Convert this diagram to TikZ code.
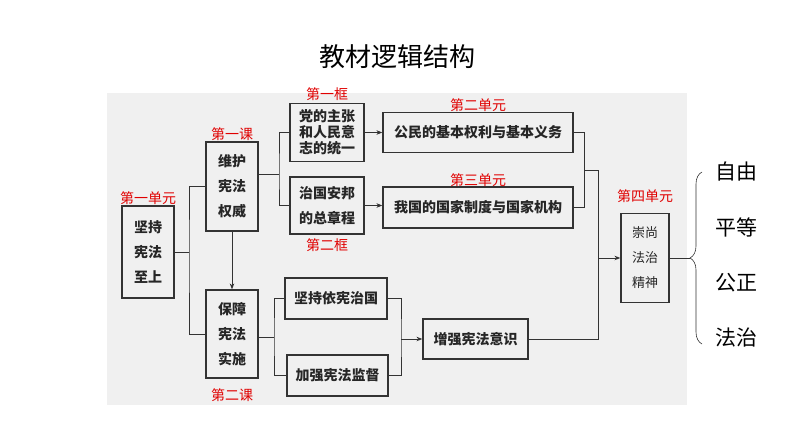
\documentclass[tikz,border=0pt]{standalone}
\usepackage{fontspec}
\setmainfont{Noto Sans CJK SC}
\usepackage{tikz}
\usetikzlibrary{arrows.meta}
\usetikzlibrary{decorations.pathreplacing}
\usetikzlibrary{positioning}
\definecolor{panel}{HTML}{F0F0F0}
\definecolor{boxline}{HTML}{333333}
\definecolor{tagred}{HTML}{E00000}

\begin{document}
\begin{tikzpicture}[
		x=1pt, y=-1pt,
		every node/.style={font=\fontsize{14}{25}\selectfont},
		topic/.style={rectangle, draw=boxline, line width=1.2pt, fill=panel, inner sep=0pt, align=center, text=black!85, font=\bfseries\fontsize{14}{25}\selectfont},
		tag/.style={inner sep=0pt, text=tagred, font=\fontsize{14}{16}\selectfont},
		link/.style={draw=boxline, line width=1pt},
		arrow/.style={link, -{Stealth[length=6pt, width=4.5pt]}}
	]
	\useasboundingbox (0,0) rectangle (794,447);
	\fill[panel] (107,93) rectangle (687,405);

	% Title
	\node[font=\fontsize{26}{30}\selectfont] (title) at (397,57) {教材逻辑结构};

	% Unit 1 and its two lessons
	\node[topic, minimum width=52pt, minimum height=92pt] (root) at (148,252) {坚持\\宪法\\至上};
	\node[tag, above=1pt of root] {第一单元};
	\node[topic, minimum width=52pt, minimum height=89pt] (weihu) at (232,186.5) {维护\\宪法\\权威};
	\node[tag, above=1pt of weihu] {第一课};
	\node[topic, minimum width=52pt, minimum height=88pt] (baozhang) at (232,334) {保障\\宪法\\实施};
	\node[tag, below=10pt of baozhang] {第二课};
	\coordinate (j1) at (189,252);
	\draw[link] (root.east) -- (j1);
	\draw[link] (weihu.west) -| (j1) |- (baozhang.west);
	\draw[arrow] (weihu.south) -- (baozhang.north);

	% Lesson 1: two frames
	\node[topic, minimum width=74pt, minimum height=58pt, font=\bfseries\fontsize{14}{16}\selectfont] (kuang1) at (327,132.5) {党的主张\\和人民意\\志的统一};
	\node[tag, above=2pt of kuang1] {第一框};
	\node[topic, minimum width=74pt, minimum height=57pt] (kuang2) at (327,205.5) {治国安邦\\的总章程};
	\node[tag, below=4pt of kuang2] {第二框};
	\coordinate (j2) at (279,174);
	\draw[link] (weihu.east |- j2) -- (j2);
	\draw[link] (kuang1.west) -| (j2) |- (kuang2.west);

	% Units 2 and 3
	\node[topic, minimum width=190pt, minimum height=40pt] (unit2) at (478,132.5) {公民的基本权利与基本义务};
	\node[tag, above=0pt of unit2] {第二单元};
	\node[topic, minimum width=190pt, minimum height=41pt] (unit3) at (478,207.5) {我国的国家制度与国家机构};
	\node[tag, above=0pt of unit3] {第三单元};
	\draw[arrow] (kuang1.east) -- (kuang1.east -| unit2.west);
	\draw[arrow] (kuang2.east) -- (kuang2.east -| unit3.west);

	% Lesson 2
	\node[topic, minimum width=102pt, minimum height=41pt] (yixian) at (336,298.5) {坚持依宪治国};
	\node[topic, minimum width=101pt, minimum height=41pt] (jiandu) at (337.5,375.5) {加强宪法监督};
	\node[topic, minimum width=105pt, minimum height=40pt] (yishi) at (475.5,339) {增强宪法意识};
	\coordinate (j5) at (274,337);
	\draw[link] (baozhang.east |- j5) -- (j5);
	\draw[link] (yixian.west) -| (j5) |- (jiandu.west);
	\coordinate (j6) at (401,339);
	\draw[link] (yixian.east) -| (j6) |- (jiandu.east);
	\draw[arrow] (j6) -- (yishi.west);

	% Unit 4
	\node[topic, minimum width=48pt, minimum height=89pt, font=\fontsize{13}{25}\selectfont] (unit4) at (645,258) {崇尚\\法治\\精神};
	\node[tag, above=10pt of unit4] {第四单元};
	\coordinate (j3) at (584,170);
	\coordinate (j4) at (598,170);
	\draw[link] (unit2.east) -| (j3) |- (unit3.east);
	\draw[link] (j3) -- (j4) |- (yishi.east);
	\draw[arrow] (unit4.west -| j4) -- (unit4.west);

	% Brace with values
	\coordinate (tip) at (690,258);
	\draw[link, line width=0.6pt] (unit4.east) -- (tip);
	\draw[link, line width=0.6pt, decorate, decoration={brace, amplitude=12pt}] (702,344) -- (702,172);
	\foreach \y/\word [count=\i] in {172/自由,227/平等,283/公正,338/法治}
		\node[font=\fontsize{21}{24}\selectfont] (value\i) at (736,\y) {\word};

\end{tikzpicture}
\end{document}
